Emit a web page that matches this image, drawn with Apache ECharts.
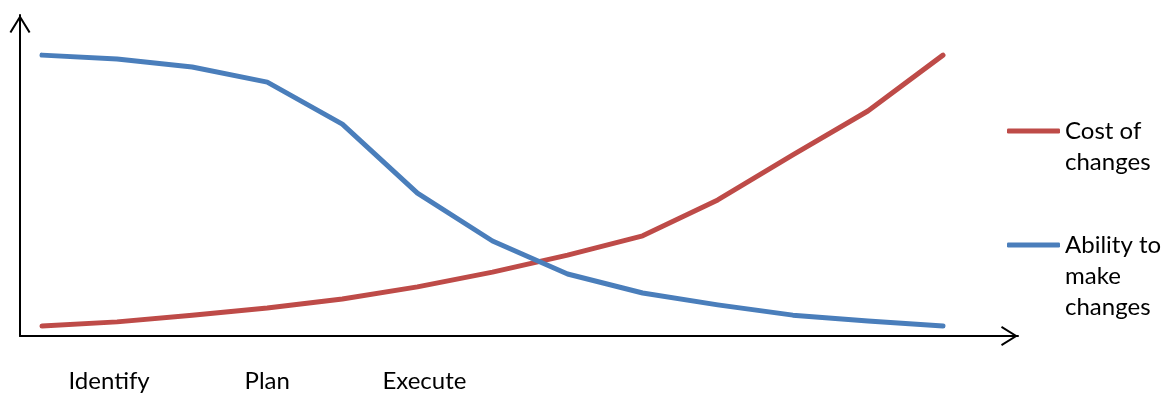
<!DOCTYPE html>
<html>
<head>
<meta charset="utf-8">
<script src="https://cdn.jsdelivr.net/npm/echarts@6/dist/echarts.min.js"></script>
<style>
html,body{margin:0;padding:0;background:#fff;}
#chart{width:1164px;height:394px;}
</style>
</head>
<body>
<div id="chart"></div>
<script>
// Data (y on a 0–100 scale)
const categories = ['', 'Identify', '', 'Plan', '', 'Execute', '', '', '', '', '', '', ''];
const costOfChanges = [3.1, 4.4, 6.5, 8.7, 11.5, 15.3, 19.9, 25.2, 31.2, 42.4, 56.4, 70.1, 87.5];
const abilityToMakeChanges = [87.5, 86.3, 83.8, 79.1, 66.0, 44.5, 29.6, 19.3, 13.4, 9.7, 6.5, 4.7, 3.1];
const seriesNames = ['Cost of\nchanges', 'Ability to\nmake\nchanges'];

const FONT = 'Lato';
const chevron = 'path://M0,16 L10,0 L20,16 L18.3,17 L10,3.6 L1.7,17 Z';

// pad a multi-line legend name with blank lines on top so its first line sits on the icon
function firstLineOnIcon(name) {
  const n = name.split('\n').length;
  return '\n'.repeat(n - 1) + name;
}

const chart = echarts.init(document.getElementById('chart'), null, {renderer: 'canvas'});
chart.setOption({
  animation: false,
  backgroundColor: '#ffffff',
  textStyle: {fontFamily: FONT, color: '#000'},
  grid: [
    {left: 42, right: 221, top: 15, bottom: 58, containLabel: false},
    {left: 20, right: 146, top: 15, bottom: 58, containLabel: false}
  ],
  xAxis: [
    {
      type: 'category', gridIndex: 0, data: categories, boundaryGap: false,
      axisLine: {show: false}, axisTick: {show: false}, splitLine: {show: false},
      axisLabel: {
        interval: 0, margin: 45, fontFamily: FONT, fontSize: 24, color: '#000',
        verticalAlign: 'middle',
        formatter: function (v) {
          if (v === 'Identify') return '{a|' + v + '}';
          if (v === 'Execute') return '{c|' + v + '}';
          return v;
        },
        rich: {
          a: {fontFamily: FONT, fontSize: 24, color: '#000', padding: [0, 16, 0, 0]},
          c: {fontFamily: FONT, fontSize: 24, color: '#000', padding: [0, 0, 0, 14]}
        }
      }
    },
    {
      type: 'value', gridIndex: 1, min: 0, max: 1,
      axisLine: {show: true, onZero: false, lineStyle: {color: '#000', width: 2},
        symbol: ['none', chevron], symbolSize: [20, 17], symbolOffset: [0, -8.5]},
      axisTick: {show: false}, axisLabel: {show: false}, splitLine: {show: false}
    }
  ],
  yAxis: [
    {
      type: 'value', gridIndex: 0, min: 0, max: 100,
      axisLine: {show: false}, axisTick: {show: false}, axisLabel: {show: false}, splitLine: {show: false}
    },
    {
      type: 'value', gridIndex: 1, min: 0, max: 1,
      axisLine: {show: true, onZero: false, lineStyle: {color: '#000', width: 2},
        symbol: ['none', chevron], symbolSize: [21, 18], symbolOffset: [0, -9]},
      axisTick: {show: false}, axisLabel: {show: false}, splitLine: {show: false}
    }
  ],
  legend: [
    {
      data: [seriesNames[0]], orient: 'vertical', left: 1007, top: 84.5, padding: 0,
      itemWidth: 53, itemHeight: 5, itemGap: 0, icon: 'roundRect',
      formatter: firstLineOnIcon,
      textStyle: {fontFamily: FONT, fontSize: 24, color: '#000', lineHeight: 31},
      selectedMode: false
    },
    {
      data: [seriesNames[1]], orient: 'vertical', left: 1007, top: 167.5, padding: 0,
      itemWidth: 53, itemHeight: 5, itemGap: 0, icon: 'roundRect',
      formatter: firstLineOnIcon,
      textStyle: {fontFamily: FONT, fontSize: 24, color: '#000', lineHeight: 31},
      selectedMode: false
    }
  ],
  series: [
    {
      name: seriesNames[0], type: 'line', xAxisIndex: 0, yAxisIndex: 0,
      data: costOfChanges, showSymbol: false, symbol: 'none', smooth: false,
      color: '#BE4B48',
      lineStyle: {color: '#BE4B48', width: 5, cap: 'round', join: 'round'},
      itemStyle: {color: '#BE4B48'}
    },
    {
      name: seriesNames[1], type: 'line', xAxisIndex: 0, yAxisIndex: 0,
      data: abilityToMakeChanges, showSymbol: false, symbol: 'none', smooth: false,
      color: '#4A7EBB',
      lineStyle: {color: '#4A7EBB', width: 5, cap: 'round', join: 'round'},
      itemStyle: {color: '#4A7EBB'}
    }
  ]
});
</script>
</body>
</html>
